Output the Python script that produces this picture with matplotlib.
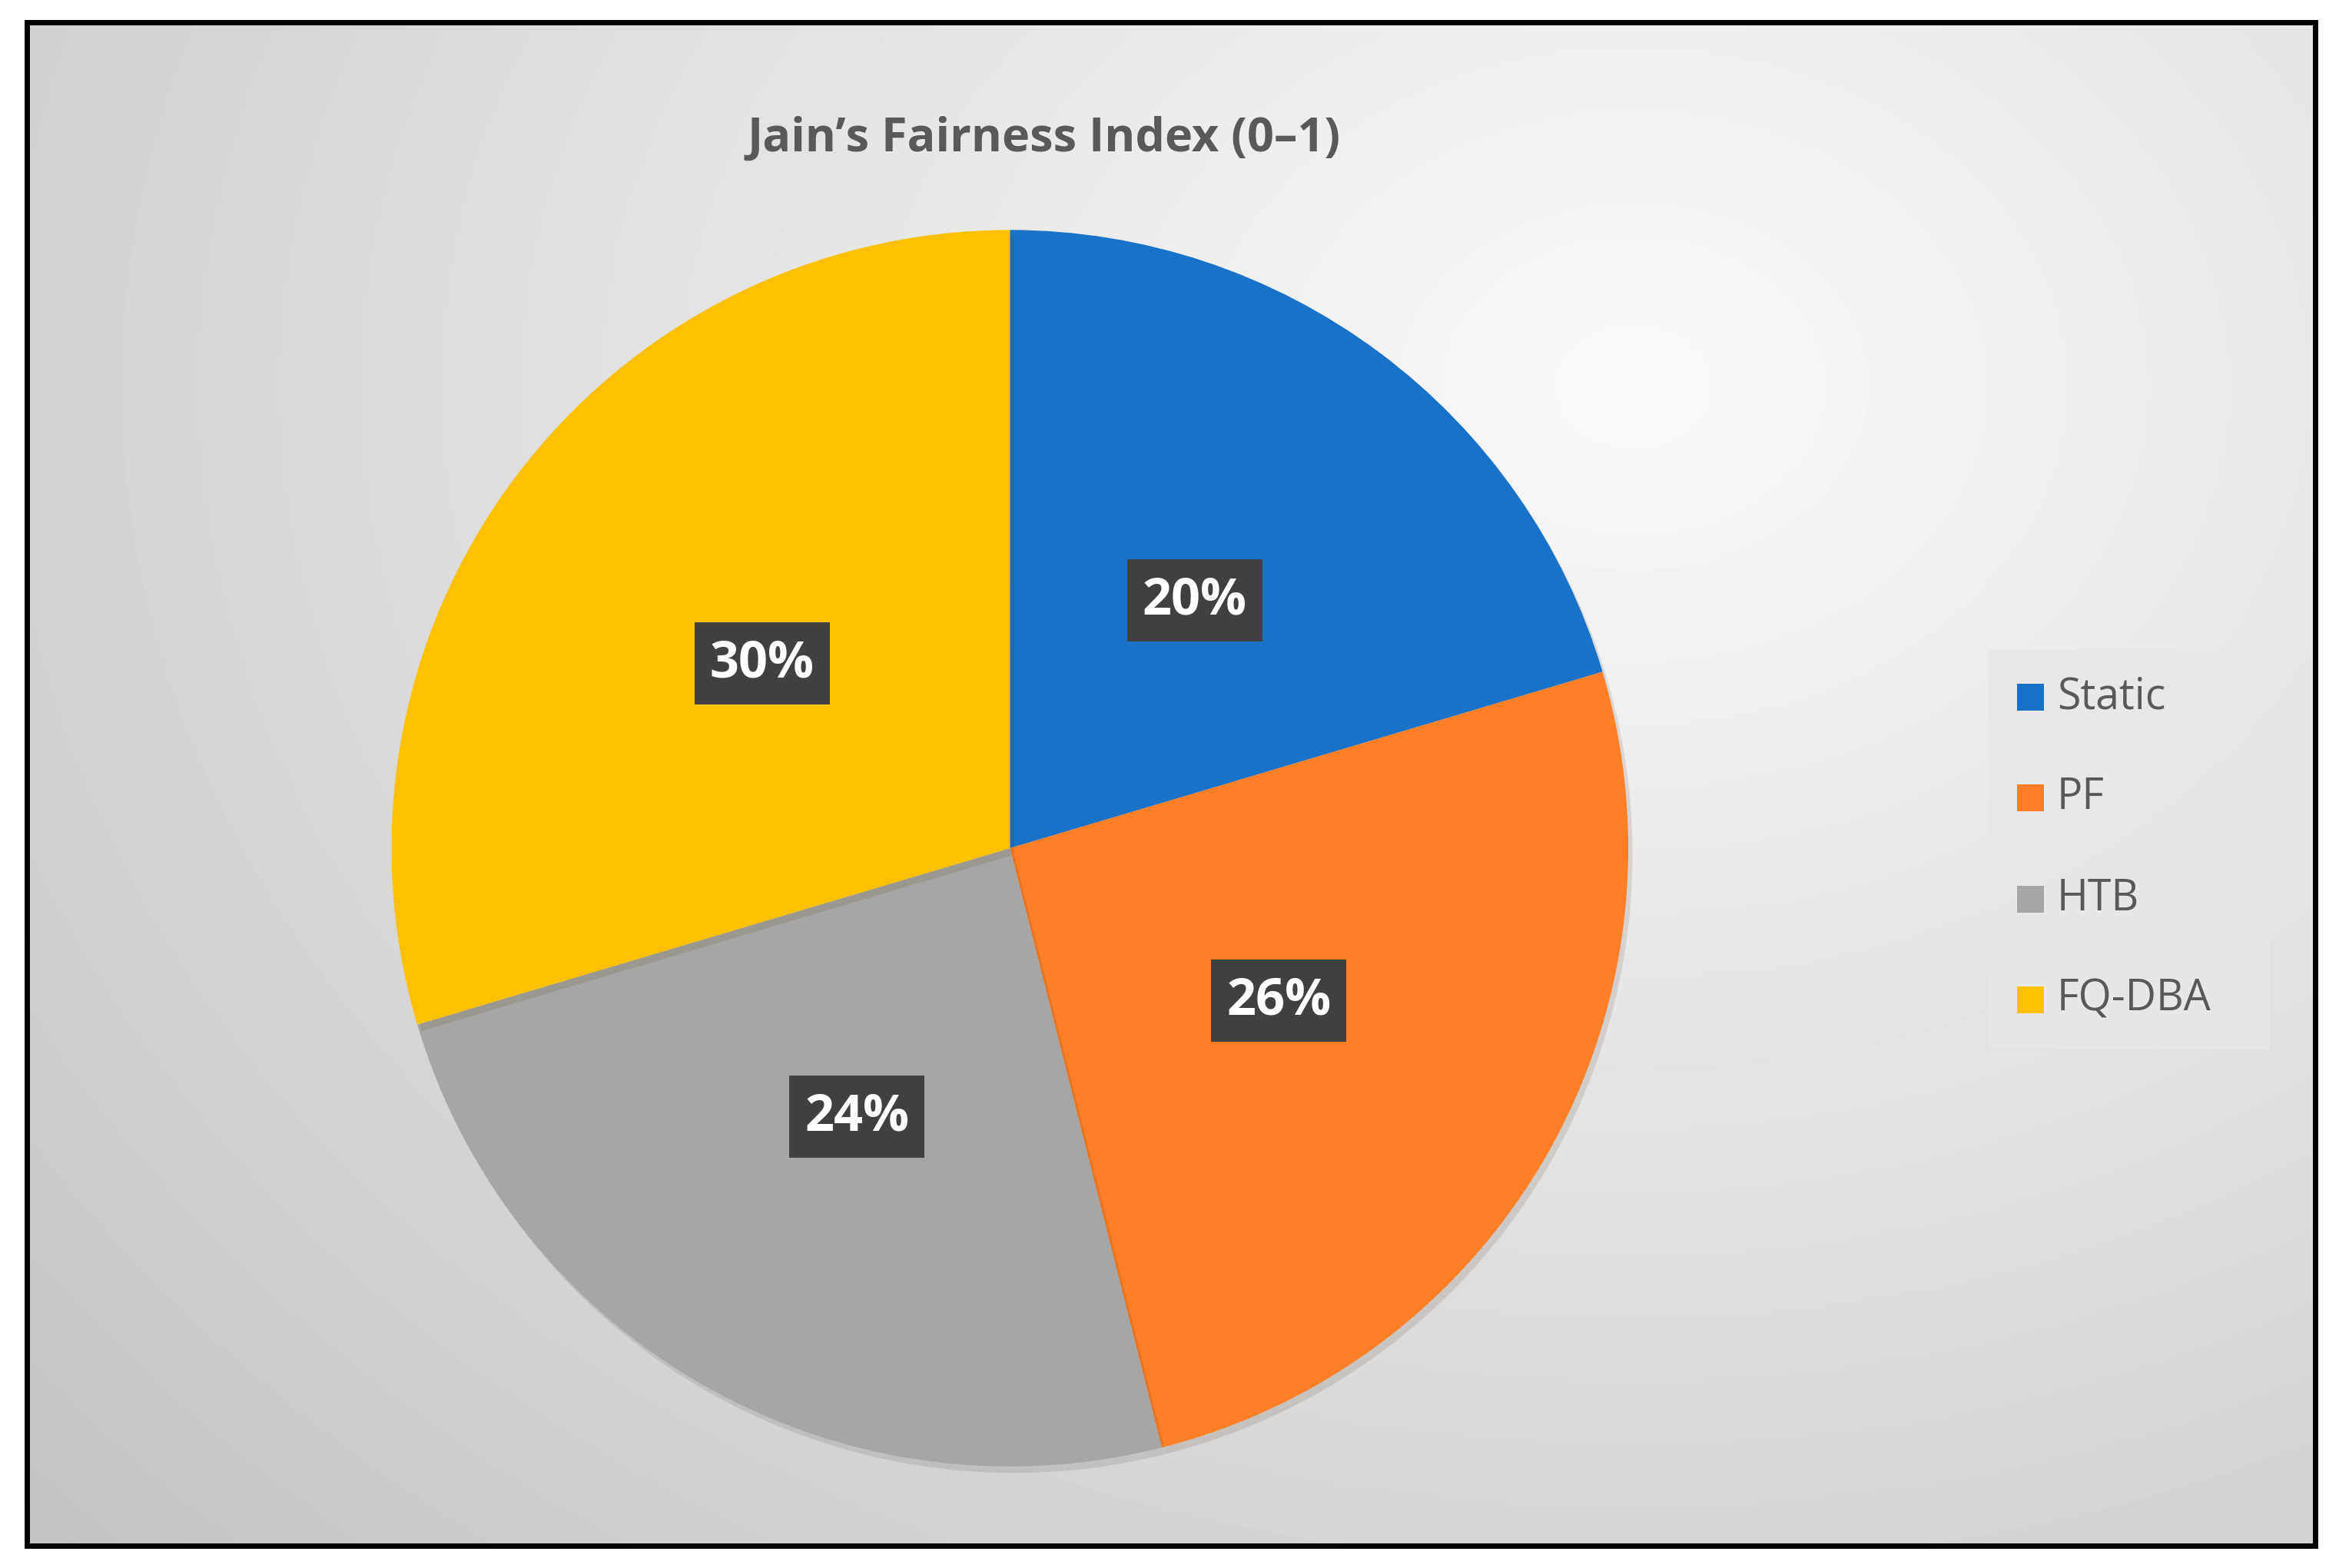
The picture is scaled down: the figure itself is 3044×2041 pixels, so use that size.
import numpy as np
import matplotlib.pyplot as plt
import matplotlib.patheffects as PathEffects
from matplotlib.patches import Rectangle

plt.rcParams['font.family'] = ['Open Sans', 'DejaVu Sans']

categories = ['Static', 'PF', 'HTB', 'FQ-DBA']
fairness = [0.62, 0.78, 0.74, 0.90]
colors = ['#1772C8', '#FE7F26', '#A6A6A6', '#FFC000']
title = 'Jain\u2019s Fairness Index (0\u20131)'

W, H = 3044, 2041
fig = plt.figure(figsize=(W / 100, H / 100), dpi=100, facecolor='w')

# background with radial gradient
bg = fig.add_axes([0, 0, 1, 1])
bg.set_xlim(0, 1568); bg.set_ylim(1050, 0); bg.axis('off')
yy, xx = np.mgrid[0:1050:2, 0:1568:2]
d = np.hypot((xx - 1100) / 1400, (yy - 250) / 1100)
shade = np.clip(0.98 - 0.2 * d, 0.76, 0.98)
bg.imshow(shade, cmap='gray', vmin=0, vmax=1, extent=[18, 1552, 1035, 15], aspect='auto', zorder=0)
bg.add_patch(Rectangle((18, 15), 1534, 1020, fill=False, ec='k', lw=5, zorder=3))
# legend box
bg.add_patch(Rectangle((1333, 435), 188, 268, fc='#E8E8E8', ec='none', alpha=0.85, zorder=2))
for i in range(len(categories)):
    y = 467 + i * 67.5
    bg.add_patch(Rectangle((1352, y - 9), 18, 18, fc=colors[i], ec='none', zorder=3))
    bg.text(1379, y, categories[i], fontsize=40, color='#595959', va='center', ha='left', zorder=3)
bg.text(700, 93, title, fontsize=44, color='#595959', fontweight='bold', ha='center', va='center')

# pie
cx, cy, r = 677 / 1568, 1 - 568 / 1050, 414 / 1050
rw = r * H / W
ax = fig.add_axes([cx - rw, cy - r, 2 * rw, 2 * r])
wedges, texts, autotexts = ax.pie(fairness, colors=colors, startangle=90, counterclock=False,
                                  autopct='%1.0f%%', pctdistance=0.5,
                                  wedgeprops=dict(lw=0),
                                  textprops=dict(color='w', fontsize=48, fontweight='bold'))
for w in wedges:
    w.set_path_effects([PathEffects.SimplePatchShadow(offset=(4, -6), alpha=0.12), PathEffects.Normal()])
for t in autotexts:
    t.set_bbox(dict(boxstyle='square,pad=0.3', fc='#404040', ec='none'))
ax.set_xlim(-1, 1); ax.set_ylim(-1, 1)
ax.set_aspect('equal')

fig.savefig('out.png', dpi=100, facecolor='w')
